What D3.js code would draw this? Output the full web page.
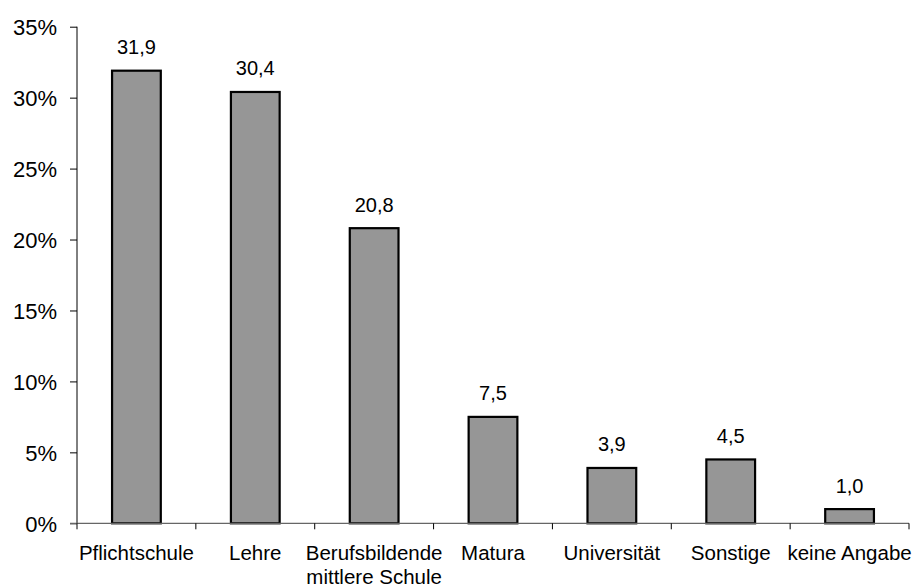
<!DOCTYPE html>
<html><head><meta charset="utf-8">
<script src="https://cdn.jsdelivr.net/npm/d3@7"></script>
<style>body{margin:0;background:#fff;} text{font-family:"Liberation Sans",Arial,sans-serif;fill:#000;}</style>
</head><body>
<svg id="c" width="913" height="588"></svg>
<script>
const categories = ["Pflichtschule", "Lehre", "Berufsbildende\nmittlere Schule", "Matura", "Universität", "Sonstige", "keine Angabe"];
const values = [31.9, 30.4, 20.8, 7.5, 3.9, 4.5, 1.0];
const valueLabels = ["31,9", "30,4", "20,8", "7,5", "3,9", "4,5", "1,0"];
const yTicks = [0, 5, 10, 15, 20, 25, 30, 35];
const yTickLabels = ["0%", "5%", "10%", "15%", "20%", "25%", "30%", "35%"];

const svg = d3.select("#c");
const x0 = 77, x1 = 909, yBottom = 523.3, yTop = 26.7;
const x = d3.scaleBand().domain(categories).range([x0, x1]).paddingInner(0.59).paddingOuter(0.295);
const y = d3.scaleLinear().domain([0, 35]).range([yBottom, yTop]);

// y axis
const yAxis = d3.axisLeft(y).tickValues(yTicks).tickSize(7).tickFormat((d, i) => yTickLabels[i]);
const gy = svg.append("g").attr("transform", `translate(${x0},0)`).call(yAxis);
gy.select(".domain").remove();
gy.selectAll(".tick line").attr("stroke", "#000");
gy.selectAll(".tick text").attr("x", -20).attr("dy", "0.36em").attr("font-size", 22).attr("font-family", '"Liberation Sans",Arial,sans-serif').attr("fill", "#000");
svg.append("line").attr("x1", x0).attr("x2", x0).attr("y1", y(35)).attr("y2", yBottom).attr("stroke", "#000");

// bars
svg.selectAll("rect.bar").data(values).join("rect")
  .attr("class", "bar")
  .attr("x", (d, i) => x(categories[i]))
  .attr("width", x.bandwidth())
  .attr("y", d => y(d))
  .attr("height", d => yBottom - y(d))
  .attr("fill", "#969696")
  .attr("stroke", "#000")
  .attr("stroke-width", 2.2);

// x axis line and ticks
svg.append("line").attr("x1", x0 - 7).attr("x2", x1).attr("y1", yBottom).attr("y2", yBottom).attr("stroke", "#666").attr("stroke-width", 1.2);
const step = x.step();
d3.range(categories.length + 1).forEach(i => {
  svg.append("line").attr("x1", x0 + i * step).attr("x2", x0 + i * step)
    .attr("y1", yBottom).attr("y2", yBottom + 6).attr("stroke", "#000");
});

// value labels
svg.selectAll("text.val").data(values).join("text")
  .attr("class", "val")
  .attr("x", (d, i) => x(categories[i]) + x.bandwidth() / 2)
  .attr("y", d => y(d) - 16.5)
  .attr("text-anchor", "middle")
  .attr("font-size", 20)
  .text((d, i) => valueLabels[i]);

// category labels
categories.forEach((c, i) => {
  const t = svg.append("text")
    .attr("x", x(c) + x.bandwidth() / 2)
    .attr("y", 560)
    .attr("text-anchor", "middle")
    .attr("font-size", 20.5);
  c.split("\n").forEach((line, j) => {
    t.append("tspan").attr("x", x(c) + x.bandwidth() / 2).attr("dy", j === 0 ? 0 : 23.5).text(line);
  });
});
</script>
</body></html>
